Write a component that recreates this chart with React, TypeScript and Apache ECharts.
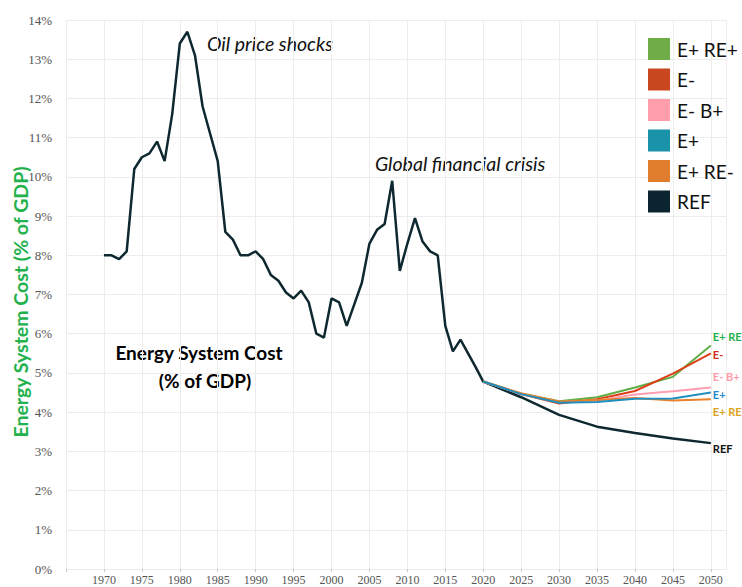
import React, { useEffect, useRef } from "react";
import * as echarts from "echarts";

const histYears = [
  1970, 1971, 1972, 1973, 1974, 1975, 1976, 1977, 1978, 1979,
  1980, 1981, 1982, 1983, 1984, 1985, 1986, 1987, 1988, 1989,
  1990, 1991, 1992, 1993, 1994, 1995, 1996, 1997, 1998, 1999,
  2000, 2001, 2002, 2003, 2004, 2005, 2006, 2007, 2008, 2009,
  2010, 2011, 2012, 2013, 2014, 2015, 2016, 2017, 2018, 2019,
];
const histValues = [
  8.0, 8.0, 7.9, 8.1, 10.2, 10.5, 10.6, 10.9, 10.4, 11.6,
  13.4, 13.7, 13.1, 11.8, 11.1, 10.4, 8.6, 8.4, 8.0, 8.0,
  8.1, 7.9, 7.5, 7.35, 7.05, 6.9, 7.1, 6.8, 6.0, 5.9,
  6.9, 6.8, 6.2, 6.75, 7.3, 8.3, 8.65, 8.8, 9.9, 7.6,
  8.3, 8.95, 8.35, 8.1, 8.0, 6.2, 5.55, 5.85, 5.5, 5.15,
];

const projYears = [2020, 2025, 2030, 2035, 2040, 2045, 2050];
const refProj = [4.78, 4.38, 3.93, 3.63, 3.47, 3.33, 3.21];
const eRePlus = [4.78, 4.47, 4.28, 4.38, 4.63, 4.9, 5.7];
const eMinus = [4.78, 4.46, 4.22, 4.33, 4.54, 4.98, 5.5];
const eMinusBPlus = [4.78, 4.47, 4.25, 4.3, 4.45, 4.53, 4.63];
const ePlus = [4.78, 4.46, 4.24, 4.26, 4.34, 4.35, 4.5];
const eReMinus = [4.78, 4.48, 4.27, 4.31, 4.36, 4.3, 4.33];

const legendNames = ["E+ RE+", "E-", "E- B+", "E+", "E+ RE-", "REF"];
const legendColors = ["#70AD47", "#C9471F", "#FF9DAD", "#1A92AA", "#E07E2E", "#0B2530"];

const zip = (xs: number[], ys: number[]) => xs.map((x, i) => [x, ys[i]]);

const FONT = "Lato, 'Open Sans', sans-serif";
const SERIF = "'Liberation Serif', 'DejaVu Serif', serif";

export default function App() {
  const ref = useRef<HTMLDivElement>(null);
  useEffect(() => {
    if (!ref.current) return;
    const chart = echarts.init(ref.current, undefined, { renderer: "svg" });

    const endLbl = (color: string, dy: number) => ({
      show: true,
      formatter: "{a}",
      color,
      fontWeight: "bold",
      fontSize: 11,
      fontFamily: FONT,
      distance: 2,
      offset: [0, dy],
    });

    const scen = (
      name: string,
      values: number[],
      color: string,
      labelColor: string,
      dy: number
    ) => ({
      name,
      type: "line",
      data: zip(projYears, values),
      showSymbol: false,
      symbol: "none",
      color,
      lineStyle: { color, width: 2 },
      endLabel: endLbl(labelColor, dy),
      z: 3,
    });

    const refData = zip(histYears, histValues).concat(zip(projYears, refProj));

    chart.setOption({
      animation: false,
      backgroundColor: "#ffffff",
      grid: { left: 66, right: 16, top: 20, bottom: 18, containLabel: false },
      xAxis: {
        type: "value",
        min: 1965,
        max: 2052,
        interval: 5,
        axisLine: { show: false },
        axisTick: { show: true, length: 3, lineStyle: { color: "#c8c8c8" } },
        axisLabel: {
          margin: 5,
          color: "#555",
          fontSize: 12,
          fontFamily: SERIF,
          showMaxLabel: false,
          formatter: (v: number) => (v === 1965 || v > 2050 ? "" : String(v)),
        },
        splitLine: { show: true, lineStyle: { color: "#ececec", width: 1 } },
      },
      yAxis: {
        type: "value",
        min: 0,
        max: 14,
        interval: 1,
        axisLine: { show: false },
        axisTick: { show: false },
        axisLabel: {
          margin: 14,
          color: "#555",
          fontSize: 13,
          fontFamily: SERIF,
          formatter: (v: number) => `${v}%`,
        },
        splitLine: { show: true, lineStyle: { color: "#ececec", width: 1 } },
      },
      legend: {
        orient: "vertical",
        left: 643,
        top: 33,
        itemWidth: 22,
        itemHeight: 22,
        itemGap: 8.5,
        icon: "rect",
        textStyle: { fontSize: 19, color: "#111", fontFamily: FONT, padding: [0, 0, 0, 2] },
        data: legendNames.map((n, i) => ({ name: n, itemStyle: { color: legendColors[i] } })),
      },
      series: [
        scen("E+ RE+", eRePlus, "#5DAF46", "#22B14C", -9),
        scen("E-", eMinus, "#DC4019", "#D32B1C", 1),
        scen("E- B+", eMinusBPlus, "#FF9EB0", "#FF9BAA", -11),
        scen("E+ RE-", eReMinus, "#E9822B", "#D9A21B", 12),
        scen("E+", ePlus, "#1F8FC0", "#1E88D0", 2),
        {
          name: "REF",
          type: "line",
          data: refData,
          showSymbol: false,
          symbol: "none",
          color: "#0E2830",
          lineStyle: { color: "#0E2830", width: 2.5 },
          endLabel: endLbl("#111", 5),
          z: 2,
        },
      ],
      graphic: [
        {
          type: "text",
          x: 20,
          y: 302,
          rotation: Math.PI / 2,
          style: {
            text: "Energy System Cost (% of GDP)",
            fill: "#22B14C",
            font: `bold 19.5px ${FONT}`,
            textAlign: "center",
            textVerticalAlign: "middle",
          },
        },
        {
          type: "text",
          x: 207,
          y: 43,
          style: {
            text: "Oil price shocks",
            fill: "#111",
            font: `italic 19.5px ${FONT}`,
            textAlign: "left",
            textVerticalAlign: "middle",
          },
        },
        {
          type: "text",
          x: 375,
          y: 163,
          style: {
            text: "Global financial crisis",
            fill: "#111",
            font: `italic 19.5px ${FONT}`,
            textAlign: "left",
            textVerticalAlign: "middle",
          },
        },
        {
          type: "text",
          x: 199,
          y: 352,
          style: {
            text: "Energy System Cost",
            fill: "#000",
            font: `bold 19px ${FONT}`,
            textAlign: "center",
            textVerticalAlign: "middle",
          },
        },
        {
          type: "text",
          x: 205,
          y: 380,
          style: {
            text: "(% of GDP)",
            fill: "#000",
            font: `bold 19px ${FONT}`,
            textAlign: "center",
            textVerticalAlign: "middle",
          },
        },
      ],
    });
    return () => chart.dispose();
  }, []);
  return (
    <div
      ref={ref}
      style={{ position: "absolute", left: 0, top: 0, width: 742, height: 587 }}
    />
  );
}
